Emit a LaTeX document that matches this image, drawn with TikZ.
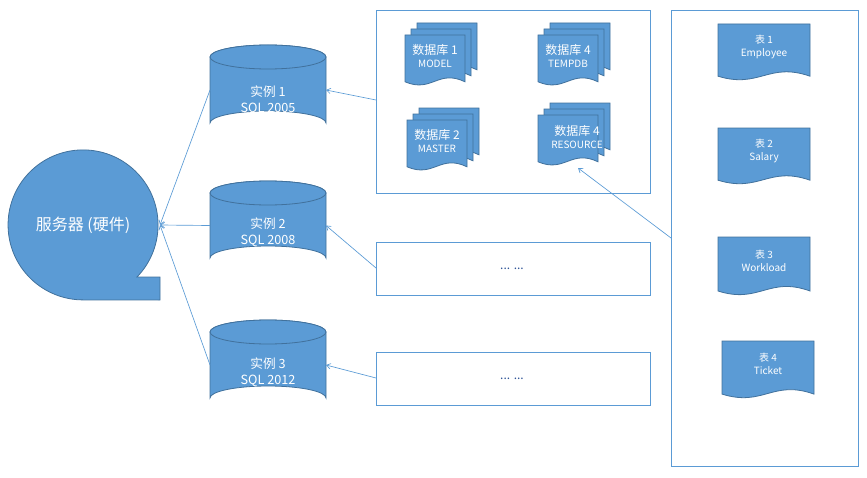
\documentclass[tikz,border=0pt]{standalone}
\usepackage{fontspec}
\setmainfont{Noto Sans CJK SC}
\usetikzlibrary{arrows.meta}
\definecolor{fillb}{HTML}{5B9BD5}
\definecolor{edgeb}{HTML}{41719C}
\definecolor{dots}{HTML}{2F5597}
\tikzset{
 shp/.style={fill=fillb,draw=edgeb,line width=0.6pt},
 box/.style={draw=fillb,line width=0.6pt},
 lbl/.style={text=white,align=center,font=\fontsize{9.5}{12}\selectfont},
 lbls/.style={text=white,align=center,font=\fontsize{7.5}{9.5}\selectfont},
 con/.style={draw=fillb,line width=0.5pt,-{Straight Barb[length=3pt,width=4pt]}},
}
\newcommand{\docshape}[4]{% x y w h
 \path[shp] (#1,#2) -- ({#1+#3},#2) -- ({#1+#3},{#2+0.9*#4})
  .. controls ({#1+0.55*#3},{#2+0.65*#4}) and ({#1+0.45*#3},{#2+1.12*#4}) .. (#1,{#2+0.9*#4}) -- cycle;}
\newcommand{\cyl}[5]{% name x y w h
 \path[shp] (#2,{#3+12}) arc[start angle=180,end angle=360,x radius={#4/2},y radius=12] -- ({#2+#4},{#3+#5-12})
  arc[start angle=0,end angle=-180,x radius={#4/2},y radius=12] -- cycle;
 \path[shp] ({#2+#4/2},{#3+12}) ellipse[x radius={#4/2},y radius=12];
 \coordinate (#1W) at (#2,{#3+#5/2});
 \coordinate (#1E) at ({#2+#4},{#3+#5/2});}
\begin{document}
\begin{tikzpicture}[x=0.75pt,y=-0.75pt]
\useasboundingbox (0,0) rectangle (867,478);
% server
\path[shp] (137,277) arc[start angle=44,end angle=-270,radius=75] -- (160,300) -- (160,277) -- cycle;
\node[text=white,font=\fontsize{12}{14}\selectfont] (srv) at (83,225) {服务器 (硬件)};
\coordinate (srvE) at (160,225);
% cylinders
\cyl{c1}{210}{45}{116}{90}
\node[lbl] (t1) at (268,100) {实例 1\\SQL 2005};
\cyl{c2}{210}{181}{116}{89}
\node[lbl] (t2) at (268,232) {实例 2\\SQL 2008};
\cyl{c3}{210}{320}{116}{90}
\node[lbl] (t3) at (268,372) {实例 3\\SQL 2012};
% boxes
\draw[box] (376,10) rectangle (650,193);
\draw[box] (376,242) rectangle (650,295);
\draw[box] (376,352) rectangle (650,405);
\draw[box] (671,10) rectangle (858,466);
\node[text=dots,font=\fontsize{9}{11}\selectfont] (d2) at (512,269) {... ...};
\node[text=dots,font=\fontsize{9}{11}\selectfont] (d3) at (512,379) {... ...};
\coordinate (b1W) at (376,100);
\coordinate (b2W) at (376,268);
\coordinate (b3W) at (376,378);
\coordinate (b4W) at (671,238);
% multi docs
\foreach \x/\y in {405/35,538/35,407/120,538/115}{
 \docshape{\x+12}{\y-12}{60}{52}
 \docshape{\x+6}{\y-6}{60}{52}
 \docshape{\x}{\y}{60}{52}}
\node[lbls] (m1) at (435,56) {\fontsize{9}{11}\selectfont 数据库 1\\MODEL};
\node[lbls] (m2) at (568,56) {\fontsize{9}{11}\selectfont 数据库 4\\TEMPDB};
\node[lbls] (m3) at (437,141) {\fontsize{9}{11}\selectfont 数据库 2\\MASTER};
\node[lbls] (m4) at (577,137) {\fontsize{9}{11}\selectfont 数据库 4\\RESOURCE};
\coordinate (m4S) at (578,168);
% tables
\docshape{718}{24}{92}{58}
\docshape{718}{128}{92}{58}
\docshape{718}{237}{92}{60}
\docshape{722}{341}{92}{59}
\node[lbls] (tb1) at (764,47) {表 1\\Employee};
\node[lbls] (tb2) at (764,151) {表 2\\Salary};
\node[lbls] (tb3) at (764,261) {表 3\\Workload};
\node[lbls] (tb4) at (768,364) {表 4\\Ticket};
% connectors
\draw[con] (c1W) -- (srvE);
\draw[con] (c2W) -- (srvE);
\draw[con] (c3W) -- (srvE);
\draw[con] (b1W) -- (c1E);
\draw[con] (b2W) -- (c2E);
\draw[con] (b3W) -- (c3E);
\draw[con] (b4W) -- (m4S);
\end{tikzpicture}
\end{document}
